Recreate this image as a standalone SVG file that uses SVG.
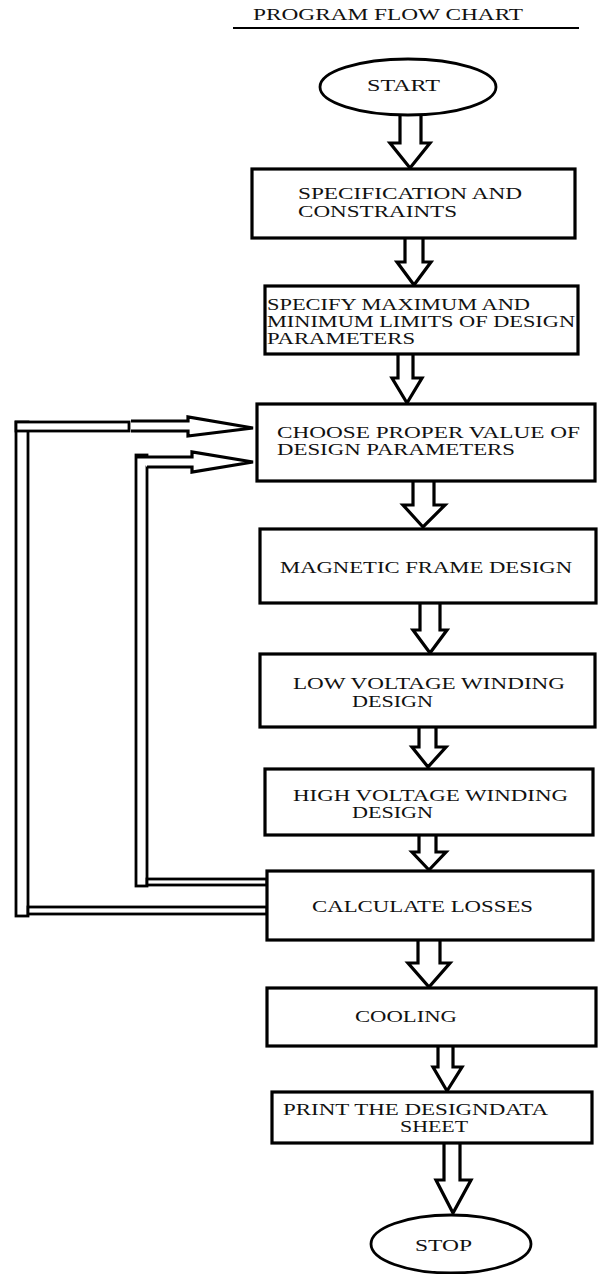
<svg xmlns="http://www.w3.org/2000/svg" width="598" height="1274" viewBox="0 0 598 1274">
<style>
.box{fill:#fff;stroke:#000;stroke-width:3.2}
.ell{fill:#fff;stroke:#000;stroke-width:2.8}
.arr{fill:#fff;stroke:#000;stroke-width:3.2;stroke-linejoin:miter}
.bar{fill:#fff;stroke:#000;stroke-width:2.8}
text{font-family:"Liberation Serif","Times New Roman",serif;font-size:16px;fill:#111}
</style>
<rect width="598" height="1274" fill="#fff"/>
<g id="title">
<text x="253" y="20" textLength="270" lengthAdjust="spacingAndGlyphs">PROGRAM FLOW CHART</text>
<line x1="233" y1="28" x2="579" y2="28" stroke="#000" stroke-width="2"/>
</g>
<g id="connectors">
<path class="arr" d="M400,113 V143 H390 L410,168 L430,143 H421 V113"/>
<path class="arr" d="M405,238 V262 H397 L414,285 L431,262 H423 V238"/>
<path class="arr" d="M398,354 V378 H392 L407,403 L422,378 H413 V354"/>
<path class="arr" d="M413,481 V505 H403 L423,527 L445,505 H434 V481"/>
<path class="arr" d="M420,603 V630 H413 L430,653 L447,630 H440 V603"/>
<path class="arr" d="M419,727 V747 H412 L428,767 L446,747 H436 V727"/>
<path class="arr" d="M419,835 V852 H412 L429,870 L446,852 H436 V835"/>
<path class="arr" d="M418,940 V963 H408 L429,987 L450,963 H440 V940"/>
<path class="arr" d="M438,1046 V1067 H433 L447,1091 L462,1067 H453 V1046"/>
<path class="arr" d="M444,1143 V1180 H436 L453,1213 L471,1180 H460 V1143"/>
<rect class="bar" x="16" y="422" width="12" height="494"/>
<rect class="bar" x="28" y="907" width="239" height="7"/>
<rect class="bar" x="16" y="422" width="113" height="9"/>
<path class="arr" d="M131,421 H188 V417 L253,428 L188,436 V431 H131"/>
<rect class="bar" x="136" y="455" width="11" height="431"/>
<rect class="bar" x="147" y="879" width="120" height="6"/>
<path class="arr" d="M137,457 H192 V452 L253,462 L192,472 V467 H147"/>
</g>
<g id="start">
<ellipse class="ell" cx="408" cy="87" rx="88" ry="28"/>
<text x="367" y="91" textLength="73" lengthAdjust="spacingAndGlyphs">START</text>
</g>
<g id="spec">
<rect class="box" x="252" y="169" width="323" height="69"/>
<text x="298" y="199" textLength="224" lengthAdjust="spacingAndGlyphs">SPECIFICATION AND</text>
<text x="298" y="217" textLength="159" lengthAdjust="spacingAndGlyphs">CONSTRAINTS</text>
</g>
<g id="limits">
<rect class="box" x="265" y="286" width="313" height="68"/>
<text x="267" y="310" textLength="263" lengthAdjust="spacingAndGlyphs">SPECIFY MAXIMUM AND</text>
<text x="267" y="327" textLength="308" lengthAdjust="spacingAndGlyphs">MINIMUM LIMITS OF DESIGN</text>
<text x="267" y="344" textLength="148" lengthAdjust="spacingAndGlyphs">PARAMETERS</text>
</g>
<g id="choose">
<rect class="box" x="257" y="404" width="338" height="77"/>
<text x="277" y="438" textLength="303" lengthAdjust="spacingAndGlyphs">CHOOSE PROPER VALUE OF</text>
<text x="277" y="455" textLength="238" lengthAdjust="spacingAndGlyphs">DESIGN PARAMETERS</text>
</g>
<g id="magnetic">
<rect class="box" x="260" y="529" width="336" height="74"/>
<text x="280" y="573" textLength="292" lengthAdjust="spacingAndGlyphs">MAGNETIC FRAME DESIGN</text>
</g>
<g id="lv">
<rect class="box" x="260" y="654" width="335" height="73"/>
<text x="293" y="689" textLength="272" lengthAdjust="spacingAndGlyphs">LOW VOLTAGE WINDING</text>
<text x="352" y="707" textLength="81" lengthAdjust="spacingAndGlyphs">DESIGN</text>
</g>
<g id="hv">
<rect class="box" x="265" y="769" width="328" height="66"/>
<text x="293" y="801" textLength="275" lengthAdjust="spacingAndGlyphs">HIGH VOLTAGE WINDING</text>
<text x="352" y="818" textLength="81" lengthAdjust="spacingAndGlyphs">DESIGN</text>
</g>
<g id="losses">
<rect class="box" x="267" y="871" width="326" height="69"/>
<text x="312" y="912" textLength="221" lengthAdjust="spacingAndGlyphs">CALCULATE LOSSES</text>
</g>
<g id="cooling">
<rect class="box" x="267" y="988" width="329" height="58"/>
<text x="355" y="1022" textLength="102" lengthAdjust="spacingAndGlyphs">COOLING</text>
</g>
<g id="print">
<rect class="box" x="272" y="1092" width="320" height="51"/>
<text x="283" y="1115" textLength="265" lengthAdjust="spacingAndGlyphs">PRINT THE DESIGNDATA</text>
<text x="400" y="1132" textLength="68" lengthAdjust="spacingAndGlyphs">SHEET</text>
</g>
<g id="stop">
<ellipse class="ell" cx="451" cy="1244" rx="80" ry="29"/>
<text x="415" y="1251" textLength="57" lengthAdjust="spacingAndGlyphs">STOP</text>
</g>
</svg>
